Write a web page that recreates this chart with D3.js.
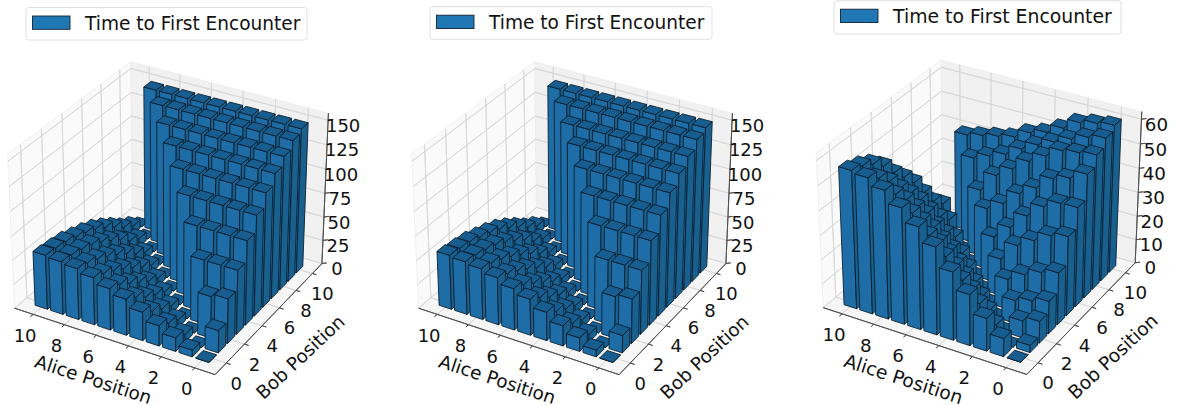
<!DOCTYPE html>
<html>
<head>
<meta charset="utf-8">
<title>Time to First Encounter</title>
<script src="https://d3js.org/d3.v7.min.js"></script>
<style>
	html, body { margin: 0; padding: 0; background: #fff; }
	svg { display: block; }
	text { font-family: "DejaVu Sans"; fill: #111; }
</style>
</head>
<body>
<script>
// heights[alice][bob]
var heightsLeft = [
	[ 0,  23, 46, 66, 87,104,118,129,138,146,150],
	[ 7,   0, 43, 66, 87,104,118,129,138,146,150],
	[14,   8,  0, 66, 87,104,118,129,138,146,150],
	[21,  14,  8,  0, 87,104,118,129,138,146,150],
	[29.5,21, 14,  8,  0,104,118,129,138,146,150],
	[37.5,30, 21, 14,  8,  0,118,129,138,146,150],
	[43,  38, 30, 22, 14,  8,  0,129,138,146,150],
	[49,  44, 38, 31, 23, 15,  8,  0,138,146,150],
	[53,  50, 45, 39, 32, 24, 15,  8,  0,146,150],
	[55,  53, 50, 46, 40, 33, 25, 15,  9,  0,150],
	[56.5,55, 53, 49, 45, 40, 33, 25, 16,  9,  0]
];
var heightsMiddle = [
	[ 0,  18, 46, 66, 87,104,118,129,138,147,151],
	[ 7,   0, 43, 66, 87,104,118,129,138,147,151],
	[14,   8,  0, 66, 87,104,118,129,138,147,151],
	[21,  14,  8,  0, 87,104,118,129,138,147,151],
	[29.5,21, 14,  8,  0,104,118,129,138,147,151],
	[37.5,30, 21, 14,  8,  0,118,129,138,147,151],
	[43,  38, 30, 22, 14,  8,  0,129,138,147,151],
	[49,  44, 38, 31, 23, 15,  8,  0,138,147,151],
	[53,  50, 45, 39, 32, 24, 15,  8,  0,147,151],
	[55,  53, 50, 46, 40, 33, 25, 15,  9,  0,151],
	[56.5,55, 53, 49, 45, 40, 33, 25, 16,  9,  0]
];
var heightsRight = [
	[ 0,   3,   9,13.5,21.5,32.7,  41,  51,55.5,  59,  61],
	[7.5,  0,   7,11.5,19.5,  31,40.7,47.5,54.5,57.5,  60],
	[13.5, 7,   0, 9.5,16.5,  27,37.4,45.4,53.5,  55,58.5],
	[21,13.5,   7,   0,12.5,  23,31.7,39.7,49.5,  52,54.5],
	[28,  21,13.5,   7,   0,15.3,  25,35.5,45.5,  49,  51],
	[36,28.5,  21,13.5,   7,   0,  19,29.5,40.5,45.5,  49],
	[42,  35,28.5,  21,13.5, 7.5,   0,25.5,  36,41.5,45.5],
	[47.5,42,35.5,  29,  21,13.5,   8,   0,  28,  39,  44],
	[52.5,47.5,42,35.5,29.5,21.5,14.5, 9.5,   0,36.3,42.5],
	[55.5,52,47.5,41.5,  36,  30,22.5,  16,11.5,   0,  41],
	[56.5,55,52.5,48.5,42.5,37.5,  32,24.5,17.5,  13,   0]
];
var positionTicks = [0, 2, 4, 6, 8, 10];
var ticksTall = [0, 25, 50, 75, 100, 125, 150];
var ticksShort = [0, 10, 20, 30, 40, 50, 60];
var legendLabel = "Time to First Encounter";

// one entry per subplot
var panels = [
	{ values: heightsLeft,   ticks: ticksTall,  zMax: 157, cx: 171, cy: 211, sx: 201, sy: 205, legend: [26, 7.5, 281, 32.5],  fs: 18 },
	{ values: heightsMiddle, ticks: ticksTall,  zMax: 157, cx: 575, cy: 211, sx: 201, sy: 205, legend: [430, 6.7, 282, 32.6], fs: 18 },
	{ values: heightsRight,  ticks: ticksShort, zMax: 63,  cx: 982, cy: 210, sx: 204, sy: 206, legend: [834, 0.7, 287, 33.3], fs: 18.3 }
];

var width = 1180, height = 405;
var barHalf = 0.4;
var posLim = [-1.2, 11.2];
var box = [1.143, 1.143, 0.857];
var elev = 30 * Math.PI / 180, azim = -60 * Math.PI / 180, dist = 10;

var colTop = "#185d8f", colLeft = "#1e6da6", colRight = "#19608f", colEdge = "#071c2b";

var svg = d3.select("body").append("svg").attr("width", width).attr("height", height);

// view vectors, same as matplotlib's default camera
var u = [-Math.sin(azim), Math.cos(azim), 0];
var w = [Math.cos(elev) * Math.cos(azim), Math.cos(elev) * Math.sin(azim), Math.sin(elev)];
var v = [-Math.sin(elev) * Math.cos(azim), -Math.sin(elev) * Math.sin(azim), Math.cos(elev)];
function dot(p, q) { return p[0] * q[0] + p[1] * q[1] + p[2] * q[2]; }

function drawPanel(panel) {
	var g = svg.append("g");

	// alice axis is inverted
	var xs = d3.scaleLinear().domain(posLim).range([box[0] / 2, -box[0] / 2]);
	var ys = d3.scaleLinear().domain(posLim).range([-box[1] / 2, box[1] / 2]);
	var zs = d3.scaleLinear().domain([0, panel.zMax]).range([-box[2] / 2, box[2] / 2]);

	function project(a, b, z) {
		var p = [xs(a), ys(b), zs(z)];
		var f = dist / (dist - dot(p, w));
		return [panel.cx + panel.sx * dot(p, u) * f, panel.cy - panel.sy * dot(p, v) * f];
	}
	function poly(pts) {
		return "M" + pts.map(function(d) { return project(d[0], d[1], d[2]).join(","); }).join("L") + "Z";
	}
	function line(p, q, color, sw) {
		g.append("path").attr("d", poly([p, q])).attr("fill", "none").attr("stroke", color).attr("stroke-width", sw);
	}

	var lo = posLim[0], hi = posLim[1], top = panel.zMax;

	// panes
	g.append("path").attr("d", poly([[hi, lo, 0], [hi, hi, 0], [hi, hi, top], [hi, lo, top]])).attr("fill", "#fafafa").attr("stroke", "#ececec").attr("stroke-width", 0.8);
	g.append("path").attr("d", poly([[hi, hi, 0], [lo, hi, 0], [lo, hi, top], [hi, hi, top]])).attr("fill", "#f1f1f1").attr("stroke", "#ececec").attr("stroke-width", 0.8);
	g.append("path").attr("d", poly([[lo, lo, 0], [hi, lo, 0], [hi, hi, 0], [lo, hi, 0]])).attr("fill", "#f6f6f6").attr("stroke", "none");

	// grid
	var gridCol = "#d6d6d6";
	positionTicks.forEach(function(t) {
		line([t, lo, 0], [t, hi, 0], gridCol, 0.8);
		line([t, hi, 0], [t, hi, top], gridCol, 0.8);
		line([lo, t, 0], [hi, t, 0], gridCol, 0.8);
		line([hi, t, 0], [hi, t, top], gridCol, 0.8);
	});
	panel.ticks.forEach(function(t) {
		line([hi, lo, t], [hi, hi, t], gridCol, 0.8);
		line([hi, hi, t], [lo, hi, t], gridCol, 0.8);
	});

	// axis lines and ticks
	var axisCol = "#4d4d4d";
	line([hi, lo, 0], [lo, lo, 0], axisCol, 0.9);
	line([lo, lo, 0], [lo, hi, 0], axisCol, 0.9);
	line([lo, hi, 0], [lo, hi, top], axisCol, 0.9);

	positionTicks.forEach(function(t) {
		line([t, lo, 0], [t, lo - 0.25, 0], axisCol, 0.9);
		line([lo, t, 0], [lo - 0.25, t, 0], axisCol, 0.9);
		var px = project(t, lo, 0), py = project(lo, t, 0);
		g.append("text").text(t).attr("x", px[0] - 8).attr("y", px[1] + 21).attr("text-anchor", "middle").attr("dy", "0.36em").style("font-size", panel.fs + "px");
		g.append("text").text(t).attr("x", py[0] + 10).attr("y", py[1] + 20).attr("text-anchor", "middle").attr("dy", "0.36em").style("font-size", panel.fs + "px");
	});
	panel.ticks.forEach(function(t) {
		line([lo, hi, t], [lo - 0.2, hi + 0.2, t], axisCol, 0.9);
		var pz = project(lo, hi, t);
		g.append("text").text(t).attr("x", pz[0] + 15).attr("y", pz[1] + 5).attr("text-anchor", "middle").attr("dy", "0.36em").style("font-size", panel.fs + "px");
	});

	// axis titles
	var pa = project(5, lo, 0), pb = project(lo, 5, 0);
	g.append("text").text("Alice Position").attr("text-anchor", "middle")
		.attr("transform", "translate(" + (pa[0] - 21) + "," + (pa[1] + 45) + ") rotate(18)").style("font-size", panel.fs * 1.02 + "px");
	g.append("text").text("Bob Position").attr("text-anchor", "middle")
		.attr("transform", "translate(" + (pb[0] + 34) + "," + (pb[1] + 45) + ") rotate(-43)").style("font-size", panel.fs * 1.02 + "px");

	// bars, far ones first
	var bars = [];
	panel.values.forEach(function(row, a) {
		row.forEach(function(h, b) { bars.push({ a: a, b: b, h: h }); });
	});
	bars.sort(function(p, q) { return d3.descending(p.a + p.b, q.a + q.b) || d3.descending(p.a, q.a); });

	var barG = g.selectAll("g.bar").data(bars).enter().append("g").attr("class", "bar")
		.attr("stroke", colEdge).attr("stroke-width", 0.85).attr("stroke-linejoin", "round");
	barG.append("path").attr("fill", colLeft).attr("d", function(d) {
		var a0 = d.a - barHalf, a1 = d.a + barHalf, b0 = d.b - barHalf;
		return poly([[a0, b0, 0], [a1, b0, 0], [a1, b0, d.h], [a0, b0, d.h]]);
	});
	barG.append("path").attr("fill", colRight).attr("d", function(d) {
		var a0 = d.a - barHalf, b0 = d.b - barHalf, b1 = d.b + barHalf;
		return poly([[a0, b0, 0], [a0, b1, 0], [a0, b1, d.h], [a0, b0, d.h]]);
	});
	barG.append("path").attr("fill", colTop).attr("d", function(d) {
		var a0 = d.a - barHalf, a1 = d.a + barHalf, b0 = d.b - barHalf, b1 = d.b + barHalf;
		return poly([[a0, b0, d.h], [a1, b0, d.h], [a1, b1, d.h], [a0, b1, d.h]]);
	});

	// legend
	var lg = panel.legend;
	g.append("rect").attr("x", lg[0]).attr("y", lg[1]).attr("width", lg[2]).attr("height", lg[3]).attr("rx", 3)
		.attr("fill", "#fff").attr("stroke", "#dcdcdc").attr("stroke-width", 0.9);
	g.append("rect").attr("x", lg[0] + 6.5).attr("y", lg[1] + 8.5).attr("width", 37.5).attr("height", 13.3)
		.attr("fill", "#1f77b4").attr("stroke", "#123").attr("stroke-width", 0.9);
	g.append("text").text(legendLabel).attr("x", lg[0] + 59).attr("y", lg[1] + 22).style("font-size", panel.fs * 1.03 + "px");
}

panels.forEach(drawPanel);
</script>
</body>
</html>
